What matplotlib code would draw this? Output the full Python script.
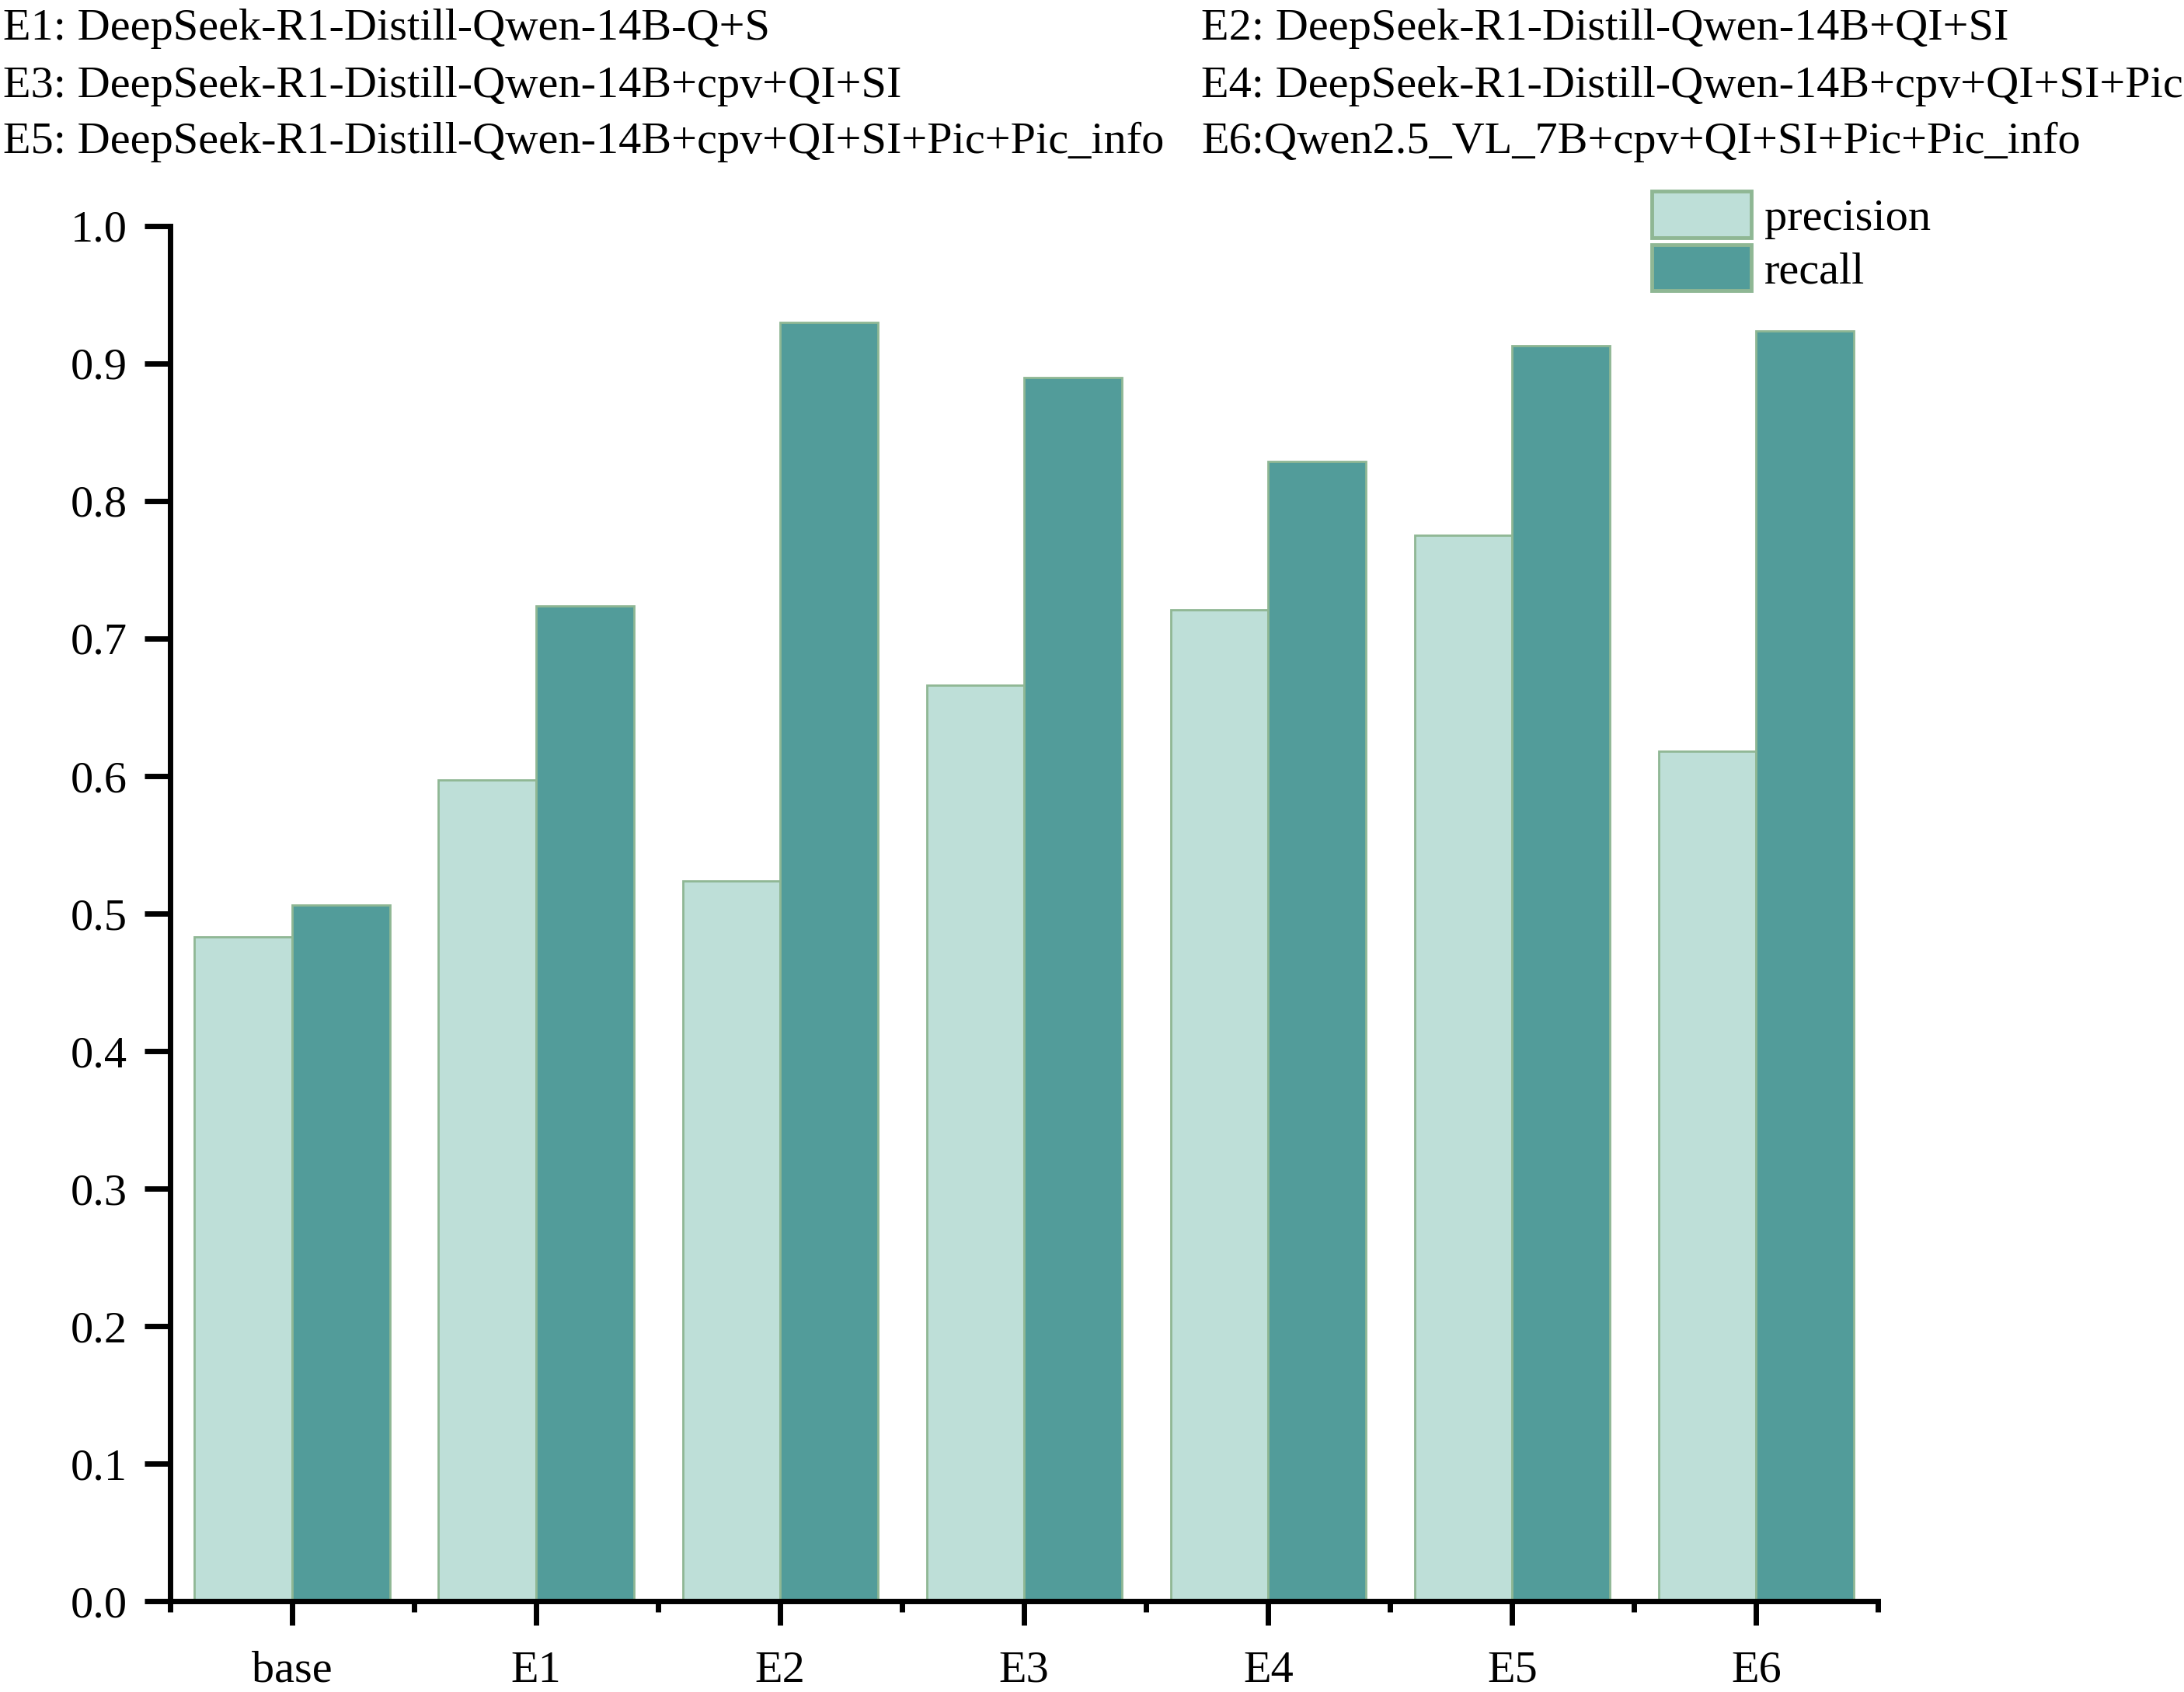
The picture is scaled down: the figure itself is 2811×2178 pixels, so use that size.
import matplotlib
matplotlib.use('Agg')
import matplotlib.pyplot as plt
import numpy as np
from matplotlib.ticker import MultipleLocator

categories = ['base', 'E1', 'E2', 'E3', 'E4', 'E5', 'E6']
precision = [0.483, 0.597, 0.524, 0.666, 0.721, 0.775, 0.618]
recall = [0.506, 0.724, 0.930, 0.890, 0.829, 0.913, 0.924]

header_left = ['E1: DeepSeek-R1-Distill-Qwen-14B-Q+S',
               'E3: DeepSeek-R1-Distill-Qwen-14B+cpv+QI+SI',
               'E5: DeepSeek-R1-Distill-Qwen-14B+cpv+QI+SI+Pic+Pic_info']
header_right = ['E2: DeepSeek-R1-Distill-Qwen-14B+QI+SI',
                'E4: DeepSeek-R1-Distill-Qwen-14B+cpv+QI+SI+Pic',
                'E6:Qwen2.5_VL_7B+cpv+QI+SI+Pic+Pic_info']

LIGHT = '#bedfd8'
DARK = '#529c9a'
EDGE = '#8fb794'
FS = 42

plt.rcParams['font.family'] = ['Liberation Serif', 'DejaVu Serif']

fig = plt.figure(figsize=(28.11, 21.78), dpi=100)
ax = fig.add_axes([0.0779, 0.0537, 0.860 - 0.0779, 0.8664 - 0.0537])

x = np.arange(len(categories))
w = 0.4
ax.bar(x - w / 2, precision, w, color=LIGHT, edgecolor=EDGE, linewidth=2, label='precision')
ax.bar(x + w / 2, recall, w, color=DARK, edgecolor=EDGE, linewidth=2, label='recall')

ax.set_xlim(-0.5, len(categories) - 0.5)
ax.set_ylim(0, 1.0)
ax.set_xticks(x)
ax.set_xticklabels(categories)
ax.xaxis.set_minor_locator(MultipleLocator(1, offset=0.5))
ax.yaxis.set_major_locator(MultipleLocator(0.1))
ax.yaxis.set_major_formatter(lambda v, p: '{:.1f}'.format(v))

for s in ['top', 'right']:
    ax.spines[s].set_visible(False)
for s in ['left', 'bottom']:
    ax.spines[s].set_linewidth(5)

ax.tick_params(axis='y', which='major', direction='out', length=24, width=5, pad=16, labelsize=FS)
ax.tick_params(axis='x', which='major', direction='out', length=22, width=5, pad=24, labelsize=FS)
ax.tick_params(axis='x', which='minor', direction='out', length=10, width=5)

leg = ax.legend(loc='upper left', bbox_to_anchor=(0.7563, 0.887), bbox_transform=fig.transFigure,
                frameon=False, fontsize=FS, borderpad=0, borderaxespad=0,
                handlelength=2.2, handleheight=1.2, handletextpad=0.28, labelspacing=0.12)
for h in leg.legend_handles:
    h.set_linewidth(3.5)

ys = [0.983, 0.949, 0.916]
for i in range(3):
    fig.text(0.0013, ys[i], header_left[i], fontsize=FS, va='center', ha='left')
    fig.text(0.550, ys[i], header_right[i], fontsize=FS, va='center', ha='left')

fig.savefig('out.png', dpi=100)
